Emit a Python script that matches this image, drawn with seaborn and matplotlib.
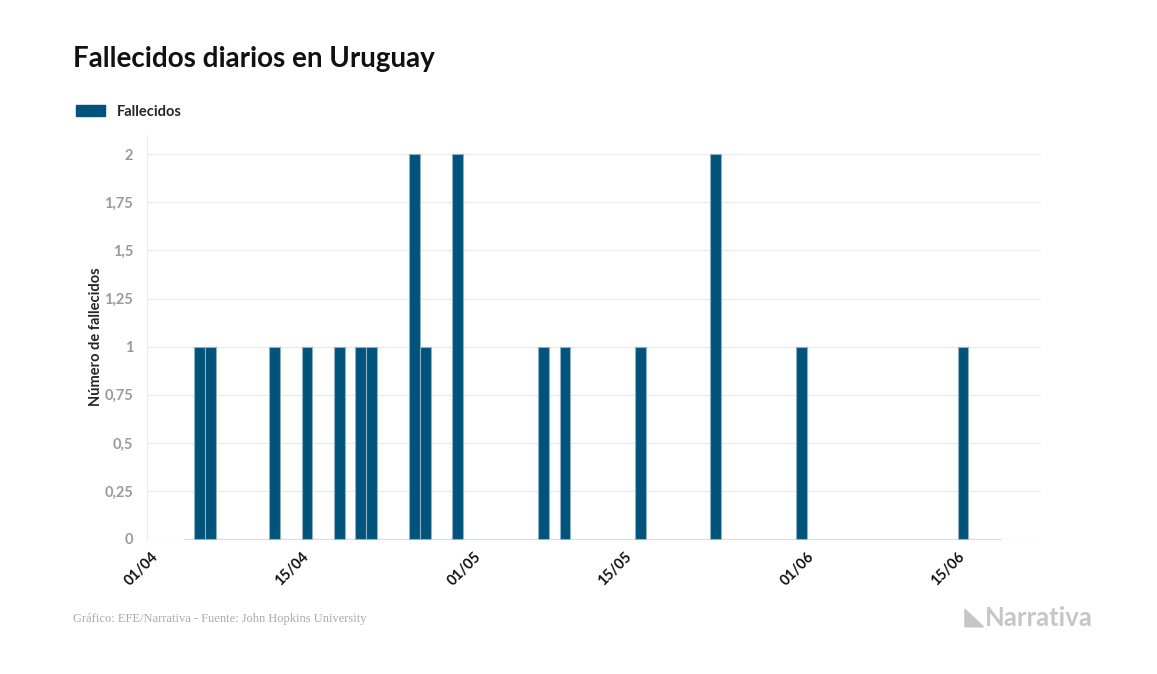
import seaborn as sns
import matplotlib.pyplot as plt
import matplotlib.patches as mpatches
import pandas as pd

# daily deaths, 04/04 -> 18/06
fallecidos = [0, 1, 1, 0, 0, 0, 0, 0, 1, 0,
              0, 1, 0, 0, 1, 0, 1, 1, 0, 0,
              0, 2, 1, 0, 0, 2, 0, 0, 0, 0,
              0, 0, 0, 1, 0, 1, 0, 0, 0, 0,
              0, 0, 1, 0, 0, 0, 0, 0, 0, 2,
              0, 0, 0, 0, 0, 0, 0, 1, 0, 0,
              0, 0, 0, 0, 0, 0, 0, 0, 0, 0,
              0, 0, 1, 0, 0, 0]
fechas = pd.date_range("2020-04-04", periods=len(fallecidos), freq="D")
inicio = pd.Timestamp("2020-04-01")

xtick_fechas = ["2020-04-01", "2020-04-15", "2020-05-01", "2020-05-15", "2020-06-01", "2020-06-15"]
xtick_labels = ["01/04", "15/04", "01/05", "15/05", "01/06", "15/06"]
yticks = [0, 0.25, 0.5, 0.75, 1, 1.25, 1.5, 1.75, 2]
ytick_labels = ["0", "0,25", "0,5", "0,75", "1", "1,25", "1,5", "1,75", "2"]

azul = "#00537b"

df = pd.DataFrame({"dia": (fechas - inicio).days, "fallecidos": fallecidos})

sns.set_style("white")
plt.rcParams["font.family"] = ["Lato", "DejaVu Sans"]

fig = plt.figure(figsize=(11.57, 6.74), dpi=100)
ax = fig.add_axes([0.127, 0.2003, 0.773, 0.5994])

sns.barplot(ax=ax, data=df, x="dia", y="fallecidos", native_scale=True, width=1,
            color=azul, saturation=1, edgecolor="#8fb0c4", linewidth=0.8, errorbar=None)
# zero days show up as a faint dashed baseline
for p in ax.patches:
    p.set_clip_on(False)
    if p.get_height() == 0:
        p.set_edgecolor("#d5e0e7")

ax.set_ylim(0, 2.1)
ax.set_xlim(-0.88, 82.28)
ax.set_yticks(yticks)
ax.set_yticklabels(ytick_labels, color="#9a9a9a", fontsize=10.5, fontweight="bold")
ax.set_xticks([(pd.Timestamp(f) - inicio).days - 0.5 for f in xtick_fechas])
ax.set_xticklabels(xtick_labels, rotation=45, ha="right", va="top", rotation_mode="anchor",
                   fontsize=10.5, fontweight="bold", color="#111111")
ax.tick_params(axis="both", length=0, pad=8)
ax.tick_params(axis="y", pad=10)

ax.grid(axis="y", color="#ebebeb", linewidth=1)
ax.set_axisbelow(True)
for s in ["top", "right", "bottom"]:
    ax.spines[s].set_visible(False)
ax.spines["left"].set_color("#ebebeb")

ax.set_xlabel("")
ax.set_ylabel("Número de fallecidos", fontsize=10.5, fontweight="bold")
ax.yaxis.set_label_coords(-0.049, 0.5)

fig.text(0.063, 0.912, "Fallecidos diarios en Uruguay", fontsize=20, fontweight="bold",
         color="#111111", va="center")

legend_patch = mpatches.Patch(color=azul, label="Fallecidos")
fig.legend(handles=[legend_patch], loc="center left", bbox_to_anchor=(0.054, 0.834),
           frameon=False, handlelength=2.0, handleheight=0.8, handletextpad=0.8,
           prop={"weight": "bold", "size": 10.5})

fig.text(0.063, 0.081, "Gráfico: EFE/Narrativa - Fuente: John Hopkins University",
         fontsize=9, color="#aaaaaa", family="Liberation Serif", va="center")
fig.text(0.851, 0.083, "Narrativa", fontsize=18.5, fontweight="bold", color="#c6c6c6",
         va="center", ha="left")
fig.patches.append(mpatches.Polygon([[0.834, 0.070], [0.834, 0.096], [0.850, 0.070]],
                                    closed=True, transform=fig.transFigure, color="#c6c6c6"))

fig.savefig("out.png", dpi=100)
